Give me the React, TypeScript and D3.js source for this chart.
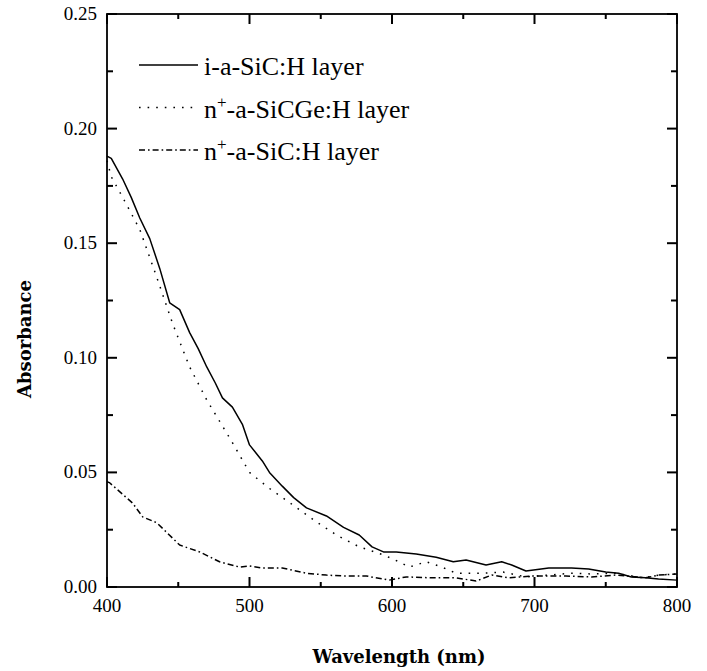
import React from 'react';
import * as d3 from 'd3';

// spectra (wavelength nm -> absorbance)
const iSiCWave = [400, 403, 411, 417, 423, 430, 437, 444, 451, 458, 464, 470, 476, 481, 488, 495, 500, 509, 514, 523, 531, 540, 554, 566, 577, 586, 594, 603, 617, 631, 643, 652, 666, 677, 684, 694, 710, 726, 738, 750, 759, 768, 778, 787, 800];
const iSiCAbs = [0.188, 0.187, 0.178, 0.170, 0.161, 0.152, 0.139, 0.124, 0.121, 0.111, 0.104, 0.096, 0.089, 0.0825, 0.0785, 0.071, 0.062, 0.055, 0.050, 0.044, 0.039, 0.0345, 0.031, 0.026, 0.0227, 0.0175, 0.0153, 0.0153, 0.0144, 0.013, 0.011, 0.0118, 0.0096, 0.011, 0.0096, 0.007, 0.0083, 0.0083, 0.0079, 0.0065, 0.006, 0.0044, 0.004, 0.0035, 0.003];

const nSiCGeWave = [400, 403, 411, 423, 435, 446, 458, 470, 488, 500, 514, 530, 547, 561, 577, 594, 605, 612, 624, 635, 645, 664, 678, 694, 710, 726, 740, 757, 776, 787, 800];
const nSiCGeAbs = [0.186, 0.179, 0.170, 0.156, 0.135, 0.115, 0.096, 0.0816, 0.063, 0.050, 0.043, 0.036, 0.0284, 0.0227, 0.0175, 0.014, 0.011, 0.0087, 0.011, 0.0087, 0.006, 0.006, 0.0065, 0.0044, 0.0052, 0.006, 0.0057, 0.006, 0.004, 0.0052, 0.0057];

const nSiCWave = [400, 402, 418, 425, 435, 451, 465, 479, 493, 500, 509, 523, 540, 554, 566, 582, 598, 610, 628, 645, 659, 670, 682, 698, 722, 740, 757, 778, 787, 800];
const nSiCAbs = [0.046, 0.0454, 0.0366, 0.0306, 0.028, 0.0183, 0.0153, 0.011, 0.0087, 0.0092, 0.0083, 0.0083, 0.006, 0.0052, 0.0048, 0.0048, 0.003, 0.0044, 0.004, 0.004, 0.0026, 0.0052, 0.004, 0.0048, 0.0048, 0.0044, 0.0052, 0.004, 0.0052, 0.0057];

const xTicks = [400, 500, 600, 700, 800];
const yTicks = [0, 0.05, 0.1, 0.15, 0.2, 0.25];
const xMinor = [450, 550, 650, 750];
const yMinor = [0.025, 0.075, 0.125, 0.175, 0.225];

const series = [
  { name: 'i-a-SiC:H layer', sup: false, wave: iSiCWave, abs: iSiCAbs, dash: '' },
  { name: 'a-SiCGe:H layer', sup: true, wave: nSiCGeWave, abs: nSiCGeAbs, dash: '1.6,7' },
  { name: 'a-SiC:H layer', sup: true, wave: nSiCWave, abs: nSiCAbs, dash: '6,3,1.6,3' },
];

export default function App() {
  const width = 707;
  const height = 671;
  const left = 107, right = 677, top = 14, bottom = 587;

  const x = d3.scaleLinear().domain([400, 800]).range([left, right]);
  const y = d3.scaleLinear().domain([0, 0.25]).range([bottom, top]);

  const serif = '"Liberation Serif", "Times New Roman", serif';
  const boldSerif = '"DejaVu Serif", serif';

  const makeLine = (wave: number[], abs: number[]) =>
    d3.line<number>().x((_, i) => x(wave[i])).y((d) => y(d))(abs) || '';

  return (
    <svg width={width} height={height} style={{ position: 'absolute', left: 0, top: 0, background: 'white' }}>
      {/* curves */}
      {series.map((s, i) => (
        <path key={i} d={makeLine(s.wave, s.abs)} fill="none" stroke="#000"
          strokeWidth={1.5} strokeDasharray={s.dash || undefined} strokeLinejoin="round" />
      ))}

      {/* frame */}
      <rect x={left} y={top} width={right - left} height={bottom - top} fill="none" stroke="#000" strokeWidth={1.8} />

      {/* x ticks, bottom and top */}
      {xTicks.map((t) => (
        <g key={'xt' + t}>
          <line x1={x(t)} x2={x(t)} y1={bottom} y2={bottom - 10} stroke="#000" strokeWidth={2} />
          <line x1={x(t)} x2={x(t)} y1={top} y2={top + 10} stroke="#000" strokeWidth={2} />
          <text x={x(t)} y={612} textAnchor="middle" fontFamily={serif} fontSize={19}>{t}</text>
        </g>
      ))}
      {xMinor.map((t) => (
        <g key={'xm' + t}>
          <line x1={x(t)} x2={x(t)} y1={bottom} y2={bottom - 5} stroke="#000" strokeWidth={2} />
          <line x1={x(t)} x2={x(t)} y1={top} y2={top + 5} stroke="#000" strokeWidth={2} />
        </g>
      ))}

      {/* y ticks, left and right */}
      {yTicks.map((t) => (
        <g key={'yt' + t}>
          <line x1={left} x2={left + 10} y1={y(t)} y2={y(t)} stroke="#000" strokeWidth={2} />
          <line x1={right} x2={right - 10} y1={y(t)} y2={y(t)} stroke="#000" strokeWidth={2} />
          <text x={97} y={y(t) + 6} textAnchor="end" fontFamily={serif} fontSize={19}>{t.toFixed(2)}</text>
        </g>
      ))}
      {yMinor.map((t) => (
        <g key={'ym' + t}>
          <line x1={left} x2={left + 6} y1={y(t)} y2={y(t)} stroke="#000" strokeWidth={2} />
          <line x1={right} x2={right - 6} y1={y(t)} y2={y(t)} stroke="#000" strokeWidth={2} />
        </g>
      ))}

      {/* axis titles */}
      <text x={399} y={663} textAnchor="middle" fontFamily={boldSerif} fontWeight="bold" fontSize={18}>Wavelength (nm)</text>
      <text transform="translate(31,339) rotate(-90)" textAnchor="middle" fontFamily={boldSerif} fontWeight="bold" fontSize={18}>Absorbance</text>

      {/* legend */}
      {series.map((s, i) => {
        const ly = 65 + i * 42.5;
        return (
          <g key={'lg' + i}>
            <line x1={139} x2={198} y1={ly} y2={ly} stroke="#000" strokeWidth={1.5} strokeDasharray={s.dash || undefined} />
            <text x={204} y={ly + 10} fontFamily={serif} fontSize={26}>
              {s.sup ? (
                <>
                  n<tspan dy={-10} fontSize={17}>+</tspan><tspan dy={10}>-{s.name}</tspan>
                </>
              ) : s.name}
            </text>
          </g>
        );
      })}
    </svg>
  );
}
